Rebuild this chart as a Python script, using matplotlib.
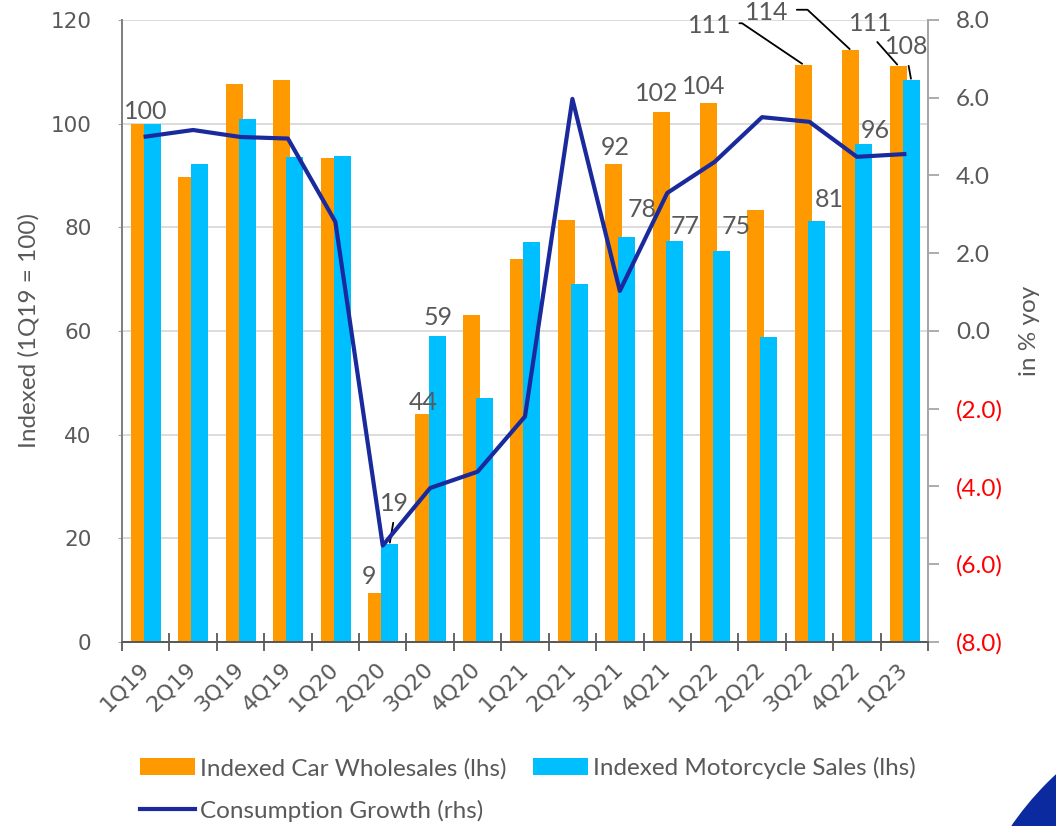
import matplotlib
matplotlib.use("Agg")
import matplotlib.pyplot as plt
from matplotlib.patches import Circle
from matplotlib.ticker import FixedLocator
import numpy as np

quarters = ["1Q19", "2Q19", "3Q19", "4Q19", "1Q20", "2Q20", "3Q20", "4Q20", "1Q21",
            "2Q21", "3Q21", "4Q21", "1Q22", "2Q22", "3Q22", "4Q22", "1Q23"]
car_wholesales = [100, 89.8, 107.7, 108.4, 93.4, 9.4, 44.0, 63.1, 73.8,
                  81.4, 92.2, 102.3, 103.9, 83.3, 111.4, 114.2, 111.2]
motorcycle_sales = [100, 92.2, 100.9, 93.5, 93.7, 18.9, 59.1, 47.0, 77.2,
                    69.1, 78.2, 77.3, 75.4, 58.8, 81.3, 96.0, 108.4]
consumption_growth = [5.0, 5.17, 4.99, 4.95, 2.81, -5.52, -4.04, -3.62, -2.2,
                      5.97, 1.03, 3.55, 4.35, 5.5, 5.38, 4.48, 4.55]

ORANGE = "#FF9900"
CYAN = "#00BFFF"
NAVY = "#1A2A9C"
GREY = "#595959"
CAL = ["Lato", "DejaVu Sans"]

fig = plt.figure(figsize=(10.56, 8.26), dpi=100)
ax = fig.add_axes([0.1155, 0.2228, 0.7633, 0.753])
ax2 = ax.twinx()

x = np.arange(len(quarters))
w = 0.36
b1 = ax.bar(x - 0.13, car_wholesales, w, color=ORANGE, label="Indexed Car Wholesales (lhs)", zorder=2)
b2 = ax.bar(x + 0.145, motorcycle_sales, w, color=CYAN, label="Indexed Motorcycle Sales (lhs)", zorder=3)
ln, = ax2.plot(x, consumption_growth, color=NAVY, lw=3, label="Consumption Growth (rhs)", zorder=5)

ax.set_xlim(-0.5, len(quarters) - 0.5)
ax.set_ylim(0, 120)
ax.set_yticks(np.arange(0, 121, 20))
ax.yaxis.grid(True, color="#D9D9D9", lw=1.3, zorder=0)
ax.set_axisbelow(True)
ax2.set_ylim(-8, 8)
ax2.set_yticks(np.arange(-8, 8.1, 2))

# x axis: labels at centres, tick marks between categories
ax.set_xticks(x)
ax.set_xticklabels(quarters, rotation=45, ha="right", va="center", rotation_mode="anchor",
                   fontsize=16, color=GREY)
ax.xaxis.set_minor_locator(FixedLocator(np.arange(-0.5, len(quarters), 1)))
ax.tick_params(axis="x", which="major", length=0, pad=17)
ax.tick_params(axis="x", which="minor", direction="inout", length=13, width=1.3, color=GREY)

ax.tick_params(axis="y", length=3, color="#A6A6A6", labelsize=15.5, labelcolor=GREY, pad=19)
ax2.tick_params(axis="y", length=8, width=1.3, color="#A6A6A6", pad=12)
ax2.set_yticklabels([f"({abs(v):.1f})" if v < 0 else f"{v:.1f}" for v in ax2.get_yticks()],
                    family=CAL, fontsize=17.5)
for t, v in zip(ax2.get_yticklabels(), ax2.get_yticks()):
    t.set_color("#FF0000" if v < 0 else GREY)

for a in (ax, ax2):
    a.spines["top"].set_visible(False)
    a.spines["left"].set_color("#808080")
    a.spines["right"].set_color("#A6A6A6")
    a.spines["bottom"].set_color(GREY)
    for s in a.spines.values():
        s.set_linewidth(1.3)

ax.set_ylabel("Indexed (1Q19 = 100)", fontsize=17.5, family=CAL, color=GREY, labelpad=8)
ax2.set_ylabel("in % yoy", fontsize=17.5, family=CAL, color=GREY, labelpad=12)

# data labels: (series, index, dx, dy) offsets in pixels from bar top
label_specs = [("car", 0, 6, 12), ("car", 5, -8, 17), ("car", 6, -1, 11), ("car", 10, 2, 17),
               ("car", 11, -4, 18), ("car", 12, -5, 17),
               ("moto", 6, 1, 18), ("moto", 10, 15, 27), ("moto", 11, 11, 15),
               ("moto", 12, 15, 25), ("moto", 14, 13, 21), ("moto", 15, 12, 14)]
for s, i, dx, dy in label_specs:
    vals, off = (car_wholesales, -0.13) if s == "car" else (motorcycle_sales, 0.145)
    ax.annotate(f"{vals[i]:.0f}", (i + off, vals[i]), xytext=(dx, dy), textcoords="offset pixels",
                ha="center", va="center", fontsize=18, family=CAL, color=GREY, zorder=6)

# labels with leader lines
leader_specs = [("car", 14, -94, 39, "angle,angleA=0,angleB=-34", (1, 0.6)),
                ("car", 15, -84, 38, "angle,angleA=0,angleB=-43", (1, 0.6)),
                ("car", 16, -27, 42, "arc3", (0.5, 0)),
                ("moto", 16, -4, 34, "arc3", (0.5, 0)),
                ("moto", 5, 5, 41, "arc3", (0.5, 0))]
for s, i, dx, dy, cs, rp in leader_specs:
    vals, off = (car_wholesales, -0.13) if s == "car" else (motorcycle_sales, 0.145)
    ax.annotate(f"{vals[i]:.0f}", (i + off, vals[i]), xytext=(dx, dy), textcoords="offset pixels",
                ha="center", va="center", fontsize=18, family=CAL, color=GREY, zorder=6,
                annotation_clip=False,
                arrowprops=dict(arrowstyle="-", color="black", lw=1.3, connectionstyle=cs,
                                relpos=rp, shrinkA=4, shrinkB=1))

leg = fig.legend(handles=[b1, ln, b2], loc="upper left", bbox_to_anchor=(0.1326, 0.0835),
                 ncol=2, frameon=False, prop={"family": CAL, "size": 17.5},
                 handlelength=2.26, handleheight=0.7, handletextpad=0.2,
                 columnspacing=1.1, labelspacing=0.85, borderaxespad=0, borderpad=0)
for t in leg.get_texts():
    t.set_color(GREY)

# decorative corner shape
fig.patches.append(Circle((12.65, -1.74), 3.07, transform=fig.dpi_scale_trans,
                          color="#0B2AA0", zorder=0))

fig.savefig("out.png", dpi=100)
